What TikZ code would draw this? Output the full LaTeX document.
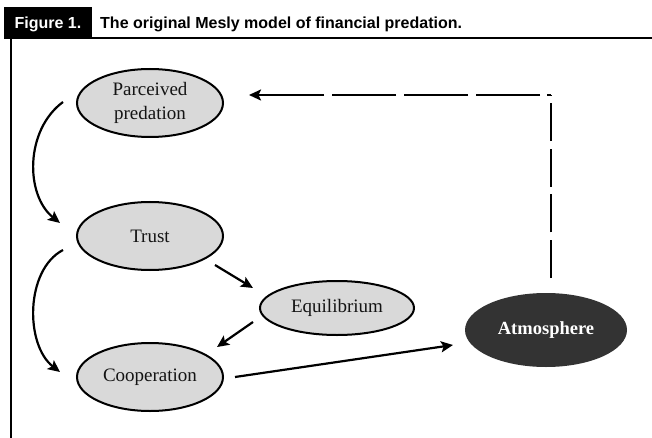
\documentclass[tikz,border=0pt]{standalone}
\usepackage{fontspec}
\setmainfont{Liberation Serif}
\newfontfamily\headfont{Liberation Sans}
\usetikzlibrary{arrows.meta,calc,shapes.geometric}
\definecolor{ellgray}{RGB}{217,217,217}
\definecolor{darkell}{RGB}{51,51,51}
\definecolor{txt}{RGB}{20,20,20}
\tikzset{
  ell/.style={ellipse, draw=black, line width=2pt, fill=ellgray, inner sep=0pt,
    text=txt, font=\fontsize{19}{24}\selectfont, align=center},
  darkellipse/.style={ellipse, fill=darkell, inner sep=0pt, text=white,
    font=\fontsize{18.5}{23}\selectfont\bfseries},
  conn/.style={line width=2.2pt, -{Stealth[length=12pt,width=11pt,inset=2.5pt]}},
  vdash/.style={line width=2.2pt, dash pattern=on 38pt off 7.6pt},
  hdash/.style={line width=2.2pt, dash pattern=on 4pt off 7pt on 64pt off 8pt on 64pt off 8pt on 64pt off 8pt on 200pt off 8pt,
    -{Stealth[length=12pt,width=11pt,inset=2.5pt]}},
  headtxt/.style={font=\headfont\fontsize{16}{19}\selectfont\bfseries, inner sep=0pt}
}
\begin{document}
\begin{tikzpicture}[x=1pt,y=-1pt]
\useasboundingbox (0,0) rectangle (652,438);
% header
\fill[black] (4,7) rectangle (92,39.2);
\node[headtxt, text=white, anchor=base] (figlab) at (48,29) {Figure 1.};
\node[headtxt, text=black, anchor=base west] (title) at (100,29) {The original Mesly model of financial predation.};
\draw[line width=2.5pt] (92,38) -- (652,38);
\draw[line width=2pt] (11,37) -- (11,438);
% nodes
\node[ell, minimum width=146pt, minimum height=68pt] (pp) at (150,103) {Parceived\\predation};
\node[ell, minimum width=146pt, minimum height=68pt] (tr) at (150,236) {Trust};
\node[ell, minimum width=146pt, minimum height=68pt] (co) at (150,377) {Cooperation};
\node[ell, minimum width=154pt, minimum height=54pt] (eq) at (337,308) {Equilibrium};
\node[darkellipse, minimum width=162pt, minimum height=74pt] (atm) at (546,330) {Atmosphere};
% connectors
\draw[conn] ($(pp)+(-87,-1)$) .. controls (25,130) and (25,195) .. ($(tr)+(-90,-13)$);
\draw[conn] ($(tr)+(-87,14)$) .. controls (25,270) and (25,345) .. ($(co)+(-90,-5)$);
\draw[conn] ($(tr)+(65,29)$) -- ($(eq)+(-84,-20)$);
\draw[conn] ($(eq)+(-84,14)$) -- ($(co)+(67,-30)$);
\draw[conn] ($(co)+(85,0)$) -- ($(atm)+(-93,15)$);
\coordinate (corner) at (551,95);
\draw[vdash] ($(atm)+(5,-52)$) -- (corner);
\draw[hdash] (corner) -- ($(pp)+(99,-8)$);
\end{tikzpicture}
\end{document}
